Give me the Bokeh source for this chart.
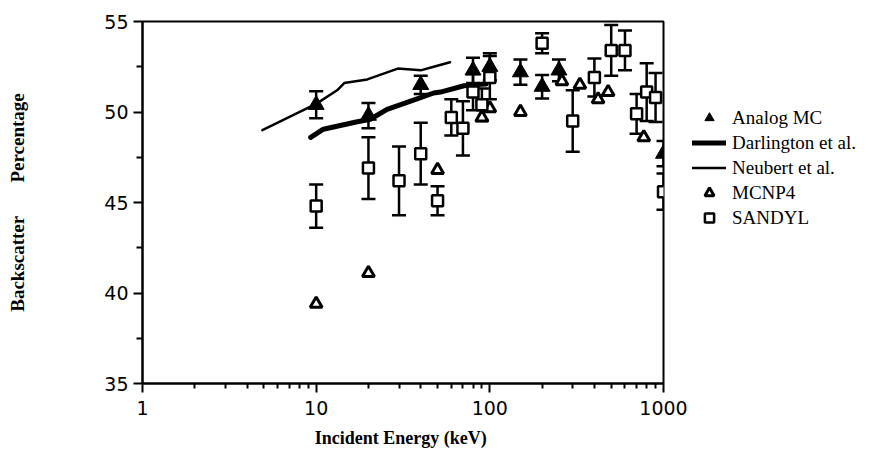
from bokeh.plotting import figure
from bokeh.layouts import row
from bokeh.models import (ColumnDataSource, Whisker, TeeHead, FixedTicker,
                          NumeralTickFormatter, Legend, LegendItem)
from bokeh.embed import file_html
from bokeh.resources import INLINE

# ---- data -------------------------------------------------------------
analog_e = [10, 20, 40, 80, 100, 150, 200, 250, 1000]
analog_v = [50.4, 49.8, 51.5, 52.3, 52.5, 52.2, 51.4, 52.3, 47.7]
analog_err = [0.75, 0.7, 0.5, 0.7, 0.75, 0.7, 0.65, 0.6, 0.7]

darlington_e = [9.3, 11, 17, 20.5, 25.6, 35, 47.5, 52, 71, 80, 95]
darlington_v = [48.6, 49.05, 49.45, 49.6, 50.15, 50.6, 51.05, 51.1, 51.45, 51.5, 51.55]

neubert_e = [4.9, 10, 13.2, 14.5, 19.7, 29.5, 40, 47.5, 59]
neubert_v = [49.0, 50.45, 51.2, 51.6, 51.8, 52.4, 52.3, 52.5, 52.75]

mcnp_e = [10, 20, 50, 90, 100, 150, 260, 330, 420, 480, 770]
mcnp_v = [39.4, 41.1, 46.8, 49.7, 50.2, 50.0, 51.7, 51.5, 50.7, 51.1, 48.6]

sandyl_e = [10, 20, 30, 40, 50, 60, 70, 80, 90, 100, 200, 300, 400, 500,
            600, 700, 800, 900, 1000]
sandyl_v = [44.8, 46.9, 46.2, 47.7, 45.1, 49.7, 49.1, 51.1, 50.4, 51.9, 53.8,
            49.5, 51.9, 53.4, 53.4, 49.9, 51.1, 50.8, 45.6]
sandyl_err = [1.2, 1.7, 1.9, 1.7, 0.8, 1.0, 1.5, 1.0, 0.9, 1.2, 0.55, 1.7,
              1.05, 1.4, 1.1, 1.1, 1.6, 1.35, 1.0]

x_ticks = [1, 10, 100, 1000]
y_ticks = [35, 40, 45, 50, 55]

# ---- sources ----------------------------------------------------------
analog_src = ColumnDataSource(dict(
    e=analog_e, v=analog_v,
    lo=[v - d for v, d in zip(analog_v, analog_err)],
    hi=[v + d for v, d in zip(analog_v, analog_err)]))
sandyl_src = ColumnDataSource(dict(
    e=sandyl_e, v=sandyl_v,
    lo=[v - d for v, d in zip(sandyl_v, sandyl_err)],
    hi=[v + d for v, d in zip(sandyl_v, sandyl_err)]))

# ---- main plot --------------------------------------------------------
p = figure(width=690, height=454, x_axis_type="log",
           x_range=(1, 1000), y_range=(35, 55),
           output_backend="svg", toolbar_location=None, title=None,
           min_border_left=142, min_border_right=27,
           min_border_top=21, min_border_bottom=71)
p.background_fill_color = "white"
p.border_fill_color = "white"
p.grid.visible = False
p.outline_line_color = "black"
p.outline_line_width = 2

minor_x = [m * d for d in (1, 10, 100) for m in range(2, 10)]
p.xaxis.ticker = FixedTicker(ticks=x_ticks, minor_ticks=minor_x)
p.xaxis.formatter = NumeralTickFormatter(format="0")
p.yaxis.ticker = FixedTicker(ticks=y_ticks, minor_ticks=[37.5, 42.5, 47.5, 52.5])

for ax in (p.xaxis[0], p.yaxis[0]):
    ax.axis_line_width = 2
    ax.axis_line_color = "black"
    ax.major_tick_line_width = 2
    ax.minor_tick_line_width = 2
    ax.major_tick_in = 0
    ax.minor_tick_in = 0
    ax.major_label_text_font = "DejaVu Sans"
    ax.major_label_text_font_size = "19px"
    ax.major_label_text_color = "black"
    ax.axis_label_text_font = "Liberation Serif"
    ax.axis_label_text_font_style = "bold"
    ax.axis_label_text_font_size = "18px"
    ax.axis_label_text_color = "black"

p.xaxis.major_tick_out = 9
p.xaxis.minor_tick_out = 5
p.xaxis.major_label_standoff = 8
p.xaxis.axis_label = "Incident Energy  (keV)"
p.xaxis.axis_label_standoff = 10

p.yaxis.major_tick_out = 9
p.yaxis.minor_tick_out = 6
p.yaxis.major_label_standoff = 5
p.yaxis.axis_label = "Backscatter\u00a0\u00a0\u00a0\u00a0\u00a0\u00a0\u00a0Percentage"
p.yaxis.axis_label_text_font_size = "19px"
p.yaxis.axis_label_standoff = 73

# error bars
for src in (analog_src, sandyl_src):
    w = Whisker(source=src, base="e", lower="lo", upper="hi",
                line_width=2.5, line_color="black", level="underlay",
                upper_head=TeeHead(size=14, line_width=2.5, line_color="black"),
                lower_head=TeeHead(size=14, line_width=2.5, line_color="black"))
    p.add_layout(w)

# curves and markers
DARL = dict(line_width=5, line_color="black", line_cap="round", line_join="round")
NEUB = dict(line_width=2.5, line_color="black", line_cap="round", line_join="round")
ANALOG = dict(marker="triangle", size=16, fill_color="black", line_color="black", line_width=1)
MCNP = dict(marker="triangle", size=12, fill_color="white", line_color="black", line_width=3)
SANDYL = dict(marker="square", size=11, fill_color="white", line_color="black", line_width=2.5)

p.line(darlington_e, darlington_v, **DARL)
p.line(neubert_e, neubert_v, **NEUB)
p.scatter("e", "v", source=analog_src, **ANALOG)
p.scatter(mcnp_e, mcnp_v, **MCNP)
p.scatter("e", "v", source=sandyl_src, **SANDYL)

# ---- key panel to the right of the plot --------------------------------
q = figure(width=184, height=454, x_range=(0, 1), y_range=(0, 1),
           output_backend="svg", toolbar_location=None, title=None,
           x_axis_location=None, y_axis_location=None, min_border=0)
q.grid.visible = False
q.outline_line_color = None
q.background_fill_color = "white"
q.border_fill_color = "white"

# key glyphs: single points placed outside the visible range
k_analog = q.scatter([-5], [-5], **ANALOG)
k_darl = q.line([-5, -4], [-5, -4], **DARL)
k_neub = q.line([-5, -4], [-5, -4], **NEUB)
k_mcnp = q.scatter([-5], [-5], **MCNP)
k_sandyl = q.scatter([-5], [-5], **SANDYL)

legend = Legend(items=[
    LegendItem(label="Analog MC", renderers=[k_analog]),
    LegendItem(label="Darlington et al.", renderers=[k_darl]),
    LegendItem(label="Neubert et al.", renderers=[k_neub]),
    LegendItem(label="MCNP4", renderers=[k_mcnp]),
    LegendItem(label="SANDYL", renderers=[k_sandyl]),
], location=(2, 154))
legend.border_line_color = None
legend.background_fill_alpha = 0
legend.padding = 0
legend.margin = 0
legend.spacing = 2
legend.glyph_height = 23
legend.label_height = 23
legend.glyph_width = 34
legend.label_standoff = 6
legend.label_text_font = "Liberation Serif"
legend.label_text_font_size = "19px"
legend.label_text_color = "black"
q.add_layout(legend)

layout = row(p, q, spacing=0)
open("out.html", "w").write(file_html(layout, INLINE))
